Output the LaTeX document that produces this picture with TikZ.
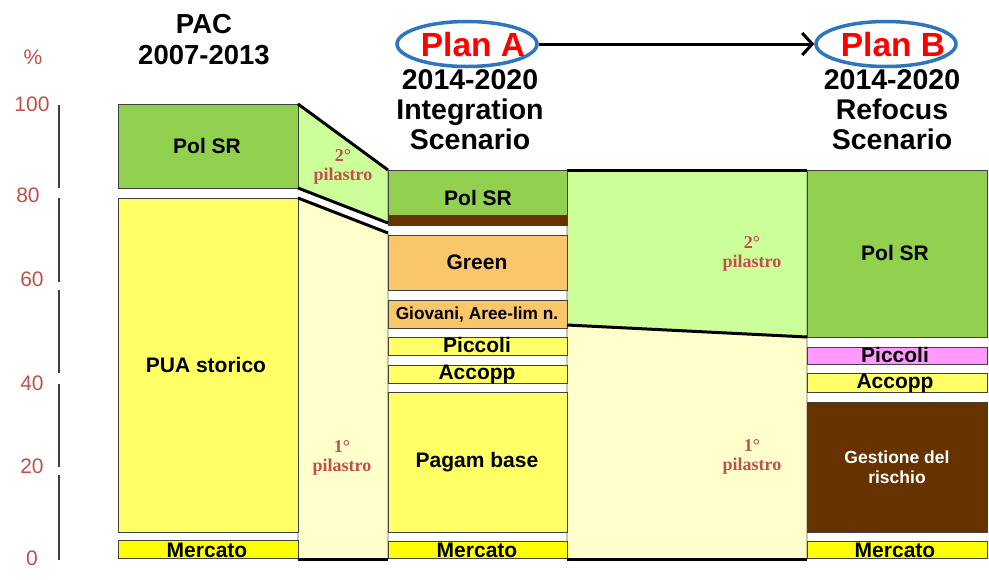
\documentclass[tikz,border=0pt]{standalone}
\usepackage{fontspec}
\setmainfont{Liberation Sans}
\newfontfamily\pilfont{Liberation Serif}
\usetikzlibrary{shapes.geometric,arrows.meta}
\definecolor{polgreen}{HTML}{92D050}
\definecolor{lgreen}{HTML}{CCFF99}
\definecolor{pyellow}{HTML}{FFFF66}
\definecolor{byellow}{HTML}{FFFF00}
\definecolor{lyellow}{HTML}{FFFFCC}
\definecolor{orng}{RGB}{250,198,106}
\definecolor{brwn}{HTML}{663300}
\definecolor{pink}{HTML}{FF99FF}
\definecolor{axred}{HTML}{C0504D}
\definecolor{ellblue}{RGB}{47,117,190}
\definecolor{axgray}{HTML}{404040}
\tikzset{
  box/.style={draw=black!75, line width=1pt},
  band/.style={draw=black!60, line width=0.6pt},
  thick line/.style={line width=3pt, black},
  lbl/.style={font=\fontsize{21}{23}\selectfont\bfseries, inner sep=0pt},
  smalllbl/.style={font=\fontsize{17.3}{19}\selectfont\bfseries, inner sep=0pt},
  pil/.style={font=\pilfont\fontsize{18}{19.5}\selectfont\bfseries, text=axred, align=center, inner sep=0pt},
  tick/.style={font=\fontsize{21}{23}\selectfont, text=axred, inner sep=0pt},
  title/.style={font=\fontsize{28.5}{30}\selectfont\bfseries, align=center, inner sep=0pt},
  plan/.style={ellipse, draw=ellblue, line width=3.5pt, fill=white, minimum width=140pt, minimum height=45pt, inner sep=0pt},
  plantxt/.style={font=\fontsize{33.5}{35}\selectfont\bfseries, text=red, inner sep=0pt},
  axseg/.style={draw=axgray, line width=2pt}
}
\begin{document}
\begin{tikzpicture}[x=1pt,y=-1pt]
\useasboundingbox (0,0) rectangle (989,579);
\fill[white] (0,0) rectangle (989,579);

% axis
\draw[axseg] (59,105) -- (59,188);
\draw[axseg] (59,198) -- (59,282);
\draw[axseg] (59,290) -- (59,373);
\draw[axseg] (59,384) -- (59,467);
\draw[axseg] (59,475) -- (59,560);
\node[tick] (pct) at (33,57) {\%};
\node[tick] (t100) at (32,104) {100};
\node[tick] (t80) at (28,195) {80};
\node[tick] (t60) at (32,279) {60};
\node[tick] (t40) at (32,383) {40};
\node[tick] (t20) at (32,466) {20};
\node[tick] (t0) at (32,558) {0};

% transition bands 1
\draw[band, fill=lgreen] (298,104) -- (388,170) -- (388,223) -- (298,188) -- cycle;
\draw[band, fill=lyellow] (298,198) -- (388,233) -- (388,559) -- (298,559) -- cycle;
% transition bands 2
\draw[band, fill=lgreen] (567,170) -- (807,170) -- (807,337) -- (567,325) -- cycle;
\draw[band, fill=lyellow] (567,325) -- (807,337) -- (807,559) -- (567,559) -- cycle;

% left column
\draw[box, fill=polgreen] (118,104) rectangle (298,188);
\draw[box, fill=pyellow] (118,198) rectangle (298,532);
\draw[box, fill=byellow] (118,540) rectangle (298,558);

% middle column
\draw[box, fill=polgreen] (388,170) rectangle (567,215);
\draw[box, fill=brwn] (388,215) rectangle (567,225);
\draw[box, fill=orng] (388,235) rectangle (567,290);
\draw[box, fill=orng] (388,300) rectangle (567,328);
\draw[box, fill=pyellow] (388,337) rectangle (567,355);
\draw[box, fill=pyellow] (388,365) rectangle (567,383);
\draw[box, fill=pyellow] (388,392) rectangle (567,532);
\draw[box, fill=byellow] (388,541) rectangle (567,558);

% right column
\draw[box, fill=polgreen] (807,170) rectangle (987,337);
\draw[box, fill=pink] (807,347) rectangle (987,364);
\draw[box, fill=pyellow] (807,373) rectangle (987,392);
\draw[box, fill=brwn] (807,402) rectangle (987,532);
\draw[box, fill=byellow] (807,541) rectangle (987,558);

% thick band lines
\draw[thick line] (298,104) -- (388,170);
\draw[thick line] (298,188) -- (388,223);
\draw[thick line] (298,198) -- (388,233);
\draw[thick line] (298,559.5) -- (388,559.5);
\draw[thick line] (567,170) -- (807,170);
\draw[thick line] (567,325) -- (807,337);
\draw[thick line] (567,559.5) -- (807,559.5);

% labels left
\node[lbl] (lpol) at (207,146) {Pol SR};
\node[lbl] (lpua) at (206,365) {PUA storico};
\node[lbl] (lmer) at (207,550) {Mercato};
% labels middle
\node[lbl] (mpol) at (478,198) {Pol SR};
\node[lbl] (mgreen) at (477,262) {Green};
\node[smalllbl] (mgio) at (477,315) {Giovani, Aree-lim n.};
\node[lbl] (mpic) at (477,345) {Piccoli};
\node[lbl] (macc) at (477,374) {Accopp};
\node[lbl] (mpag) at (477,462) {Pagam base};
\node[lbl] (mmer) at (477,550) {Mercato};
% labels right
\node[lbl] (rpol) at (895,253) {Pol SR};
\node[lbl] (rpic) at (895,355) {Piccoli};
\node[lbl] (racc) at (895,383) {Accopp};
\node[font=\fontsize{17.5}{19.5}\selectfont\bfseries, text=white, align=center, inner sep=0pt] (rges) at (897,467) {Gestione del\\rischio};
\node[lbl] (rmer) at (895,550) {Mercato};

% pilastro labels
\node[pil] (p2a) at (343,167) {2°\\pilastro};
\node[pil] (p1a) at (342,458) {1°\\pilastro};
\node[pil] (p2b) at (752,254) {2°\\pilastro};
\node[pil] (p1b) at (752,457) {1°\\pilastro};

% titles
\node[title, font=\fontsize{27.5}{31}\selectfont\bfseries] (pac) at (204,39.5) {PAC\\2007-2013};
\node[title] (tA) at (470,110) {2014-2020\\Integration\\Scenario};
\node[title] (tB) at (892,110) {2014-2020\\Refocus\\Scenario};

% plans
\node[plan] (planA) at (467,44) {};
\node[plan] (planB) at (886,44) {};
\node[plantxt] (planAtxt) at (473,45) {Plan A};
\node[plantxt] (planBtxt) at (893,45) {Plan B};
\draw[line width=3pt, -{Straight Barb[length=10pt,width=22pt,line width=3pt]}] (planA.east) -- (planB.west);
\end{tikzpicture}
\end{document}
